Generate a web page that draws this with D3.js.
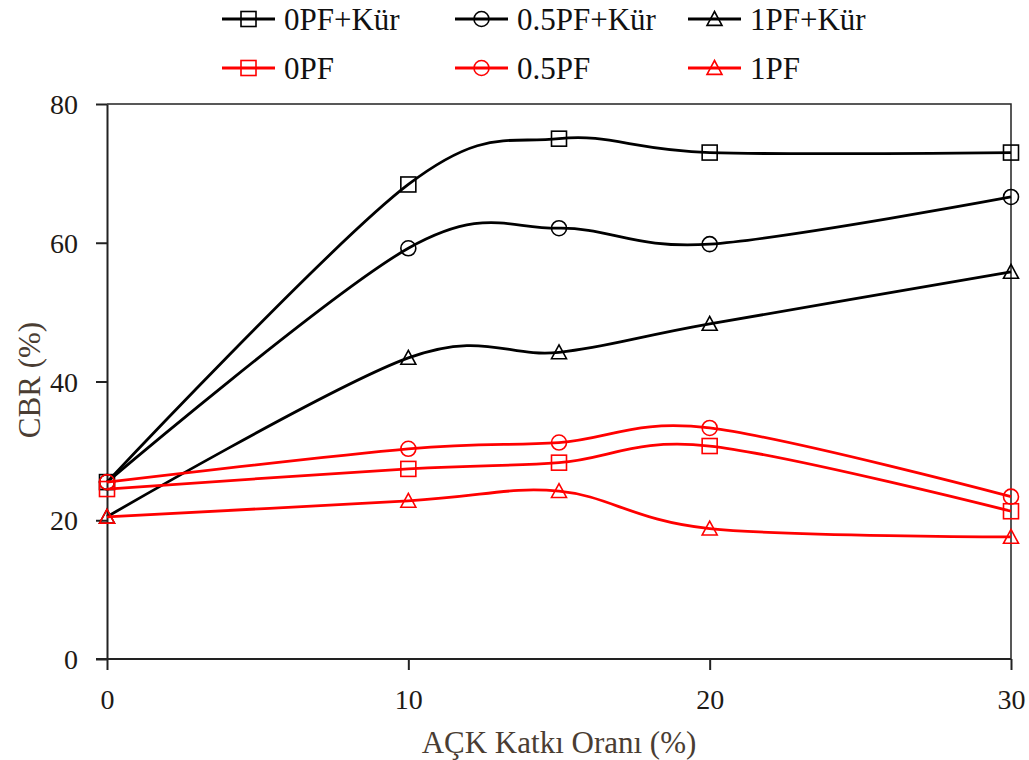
<!DOCTYPE html>
<html>
<head>
<meta charset="utf-8">
<script src="https://d3js.org/d3.v7.min.js"></script>
<style>
  html, body { margin: 0; padding: 0; background: #fff; }
  svg { display: block; }
  text { font-family: "Liberation Serif", "Times New Roman", serif; }
</style>
</head>
<body>
<svg id="chart" width="1029" height="760"></svg>
<script>
// ---- data ----
const xValues = [0, 10, 15, 20, 30];
const seriesNames = ["0PF+Kür", "0.5PF+Kür", "1PF+Kür", "0PF", "0.5PF", "1PF"];
const s0PFKur  = [25.5, 68.4, 75.0, 73.0, 73.0];
const s05PFKur = [25.5, 59.2, 62.1, 59.8, 66.6];
const s1PFKur  = [20.5, 43.4, 44.2, 48.3, 55.8];
const s0PF     = [24.5, 27.4, 28.3, 30.7, 21.3];
const s05PF    = [25.5, 30.3, 31.2, 33.3, 23.4];
const s1PF     = [20.5, 22.8, 24.2, 18.8, 17.6];
const xTicks = [0, 10, 20, 30];
const yTicks = [0, 20, 40, 60, 80];
const xTitle = "AÇK Katkı Oranı (%)";
const yTitle = "CBR (%)";

const series = [
  { name: seriesNames[0], values: s0PFKur,  color: "#000000", marker: "square" },
  { name: seriesNames[1], values: s05PFKur, color: "#000000", marker: "circle" },
  { name: seriesNames[2], values: s1PFKur,  color: "#000000", marker: "triangle" },
  { name: seriesNames[3], values: s0PF,     color: "#ff0000", marker: "square" },
  { name: seriesNames[4], values: s05PF,    color: "#ff0000", marker: "circle" },
  { name: seriesNames[5], values: s1PF,     color: "#ff0000", marker: "triangle" }
];

// ---- layout ----
const svg = d3.select("#chart");
const plot = { left: 107, right: 1011, top: 104, bottom: 659 };
const x = d3.scaleLinear().domain([0, 30]).range([plot.left, plot.right]);
const y = d3.scaleLinear().domain([0, 80]).range([plot.bottom, plot.top]);

// frame: top & right border
svg.append("path")
  .attr("d", `M${plot.left},${plot.top}H${plot.right}V${plot.bottom}`)
  .attr("fill", "none").attr("stroke", "#222").attr("stroke-width", 1.5);

// axes
const xAxis = svg.append("g")
  .attr("transform", `translate(0,${plot.bottom})`)
  .call(d3.axisBottom(x).tickValues(xTicks).tickSize(11).tickSizeOuter(0).tickPadding(19));
const yAxis = svg.append("g")
  .attr("transform", `translate(${plot.left},0)`)
  .call(d3.axisLeft(y).tickValues(yTicks).tickSize(11).tickSizeOuter(0).tickPadding(18));

[xAxis, yAxis].forEach(g => {
  g.select(".domain").attr("stroke", "#222").attr("stroke-width", 2);
  g.selectAll(".tick line").attr("stroke", "#222").attr("stroke-width", 2);
  g.selectAll(".tick text")
    .attr("fill", "#1e1a16")
    .style("font-size", "28px")
    .style("font-family", "'Liberation Serif', serif");
});
yAxis.selectAll(".tick text").attr("dy", "0.34em");
xAxis.selectAll(".tick text").attr("dy", "0.72em");
// extend x domain slightly left so origin looks like a cross
xAxis.select(".domain").attr("d", `M${plot.left - 11},0H${plot.right}`);

// axis titles
svg.append("text")
  .attr("x", 559)
  .attr("y", 753)
  .attr("text-anchor", "middle")
  .attr("fill", "#4a3d33")
  .style("font-size", "31px")
  .text(xTitle);
svg.append("text")
  .attr("transform", `translate(40,380) rotate(-90)`)
  .attr("text-anchor", "middle")
  .attr("fill", "#4a3d33")
  .style("font-size", "31px")
  .text(yTitle);

// markers
const msize = 15;
function drawMarker(g, type, cx, cy, color, sz) {
  const h = sz / 2;
  if (type === "square") {
    g.append("rect").attr("x", cx - h).attr("y", cy - h).attr("width", sz).attr("height", sz)
      .attr("fill", "none").attr("stroke", color).attr("stroke-width", 1.6);
  } else if (type === "circle") {
    g.append("circle").attr("cx", cx).attr("cy", cy).attr("r", h)
      .attr("fill", "none").attr("stroke", color).attr("stroke-width", 1.6);
  } else {
    g.append("path")
      .attr("d", `M${cx},${cy - h}L${cx + h},${cy + h * 0.85}L${cx - h},${cy + h * 0.85}Z`)
      .attr("fill", "none").attr("stroke", color).attr("stroke-width", 1.6);
  }
}

// lines
const line = d3.line()
  .x(d => x(d[0]))
  .y(d => y(d[1]))
  .curve(d3.curveCardinal.tension(0));

const drawOrder = [2, 1, 0, 5, 3, 4];
drawOrder.forEach(i => {
  const s = series[i];
  const pts = xValues.map((xv, j) => [xv, s.values[j]]);
  const g = svg.append("g");
  g.append("path").attr("d", line(pts))
    .attr("fill", "none").attr("stroke", s.color).attr("stroke-width", 2.8);
  pts.forEach(p => drawMarker(g, s.marker, x(p[0]), y(p[1]), s.color, msize));
});

// legend
const legendCols = [222, 455, 688];
const legendRows = [19, 68];
series.forEach((s, i) => {
  const lx = legendCols[i % 3];
  const ly = legendRows[Math.floor(i / 3)];
  const g = svg.append("g");
  g.append("line").attr("x1", lx).attr("x2", lx + 53).attr("y1", ly).attr("y2", ly)
    .attr("stroke", s.color).attr("stroke-width", 2.8);
  drawMarker(g, s.marker, lx + 26.5, ly, s.color, msize);
  g.append("text").attr("x", lx + 62).attr("y", ly).attr("dy", "0.35em")
    .attr("fill", "#111")
    .style("font-size", "31px")
    .text(s.name);
});
</script>
</body>
</html>
